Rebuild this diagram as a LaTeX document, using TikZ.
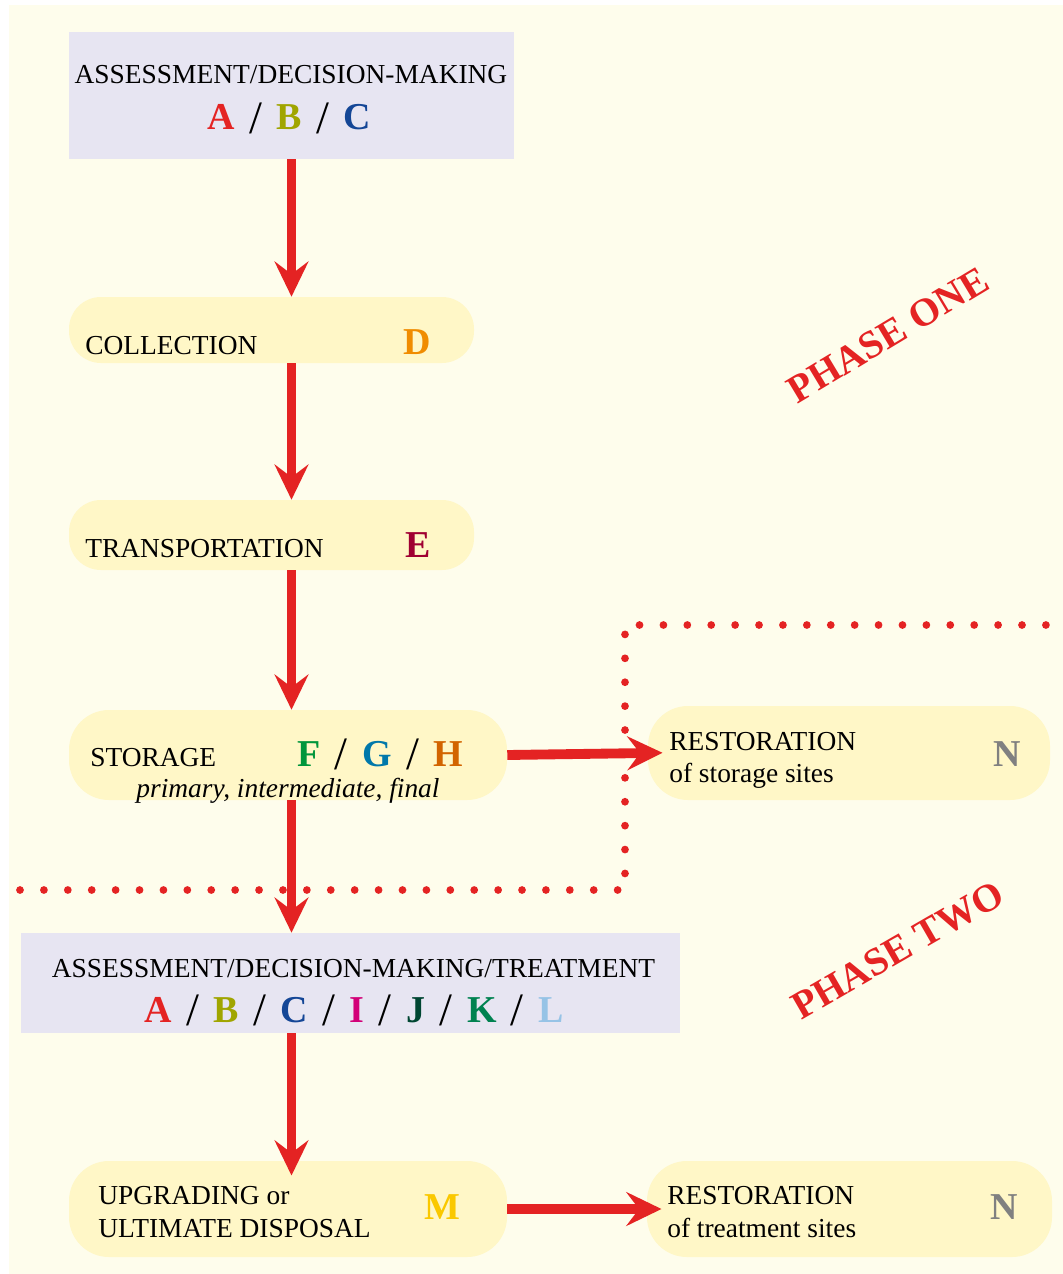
\documentclass[tikz,border=0pt]{standalone}
\usepackage{fontspec}
\setmainfont{Liberation Serif}
\usetikzlibrary{arrows.meta}
\definecolor{bg}{RGB}{254, 253, 236}
\definecolor{lav}{RGB}{231, 229, 242}
\definecolor{pil}{RGB}{255, 247, 199}
\definecolor{arr}{RGB}{228, 35, 35}
\definecolor{cA}{RGB}{228, 35, 35}
\definecolor{cB}{RGB}{160, 165, 0}
\definecolor{cC}{RGB}{20, 70, 150}
\definecolor{cD}{RGB}{240, 140, 0}
\definecolor{cE}{RGB}{160, 0, 50}
\definecolor{cF}{RGB}{0, 150, 60}
\definecolor{cG}{RGB}{0, 120, 170}
\definecolor{cH}{RGB}{210, 100, 0}
\definecolor{cI}{RGB}{210, 0, 120}
\definecolor{cJ}{RGB}{0, 70, 50}
\definecolor{cK}{RGB}{0, 130, 80}
\definecolor{cL}{RGB}{150, 195, 230}
\definecolor{cM}{RGB}{250, 200, 0}
\definecolor{cN}{RGB}{128, 128, 128}
\newcommand{\px}{0.025cm}
\newcommand{\ltr}[2]{\textbf{\color{#1}#2}}
\newcommand{\lsep}{\hspace{0.38em}\raisebox{-2.5pt}{\fontsize{33}{33}\selectfont/}\hspace{0.38em}}

\begin{document}
\begin{tikzpicture}[x=0.025cm, y=-0.025cm,
    box/.style={fill=lav, inner sep=0pt},
    pill/.style={fill=pil, inner sep=0pt, rounded corners=0.8cm},
    flow/.style={draw=arr, line width=7pt, -{Stealth[length=25pt, width=24pt, inset=9pt]}},
    txt/.style={font=\fontsize{19.5}{23}\selectfont, inner sep=0pt},
    big/.style={font=\fontsize{27}{30}\selectfont, inner sep=0pt},
    phase/.style={font=\fontsize{28}{30}\selectfont\bfseries, text=arr, inner sep=0pt}]
  \useasboundingbox (0,0) rectangle (1063,1274);
  \fill[bg] (9,5) rectangle (1063,1274);

  % phase boundary
  \draw[arr, line width=5.5pt, line cap=round, dash pattern=on 0pt off 17pt]
    (20,890) -| (625,625) -- (1050,625);

  % boxes
  \node[box, minimum width={445*\px}, minimum height={127*\px}] (assess1) at (291.5,95.5) {};
  \node[pill, minimum width={405*\px}, minimum height={66*\px}] (coll) at (271.5,330) {};
  \node[pill, minimum width={405*\px}, minimum height={70*\px}] (trans) at (271.5,535) {};
  \node[pill, minimum width={438*\px}, minimum height={90*\px}, rounded corners=1cm] (stor) at (288,755) {};
  \node[pill, minimum width={402*\px}, minimum height={94*\px}, rounded corners=1cm] (rest1) at (849,753) {};
  \node[box, minimum width={659*\px}, minimum height={100*\px}] (assess2) at (350.5,983) {};
  \node[pill, minimum width={438*\px}, minimum height={96*\px}, rounded corners=1cm] (upg) at (288,1209) {};
  \node[pill, minimum width={405*\px}, minimum height={96*\px}, rounded corners=1cm] (rest2) at (849.5,1209) {};

  % texts
  \node[txt, anchor=base] (assess1t) at (291,84) {ASSESSMENT/DECISION-MAKING};
  \node[big, anchor=base] (assess1l) at (289,130) {\ltr{cA}{A}\lsep\ltr{cB}{B}\lsep\ltr{cC}{C}};
  \node[txt, anchor=base west] (collt) at (85,354) {COLLECTION};
  \node[big, anchor=base west] (colll) at (403,354) {\ltr{cD}{D}};
  \node[txt, anchor=base west] (transt) at (85,557) {TRANSPORTATION};
  \node[big, anchor=base west] (transl) at (405,557) {\ltr{cE}{E}};
  \node[txt, anchor=base west] (stort) at (90,766) {STORAGE};
  \node[big, anchor=base west] (storl) at (297,766) {\ltr{cF}{F}\lsep\ltr{cG}{G}\lsep\ltr{cH}{H}};
  \node[txt, anchor=base, font=\fontsize{19.5}{23}\selectfont\itshape] (stori) at (288,797) {primary, intermediate, final};
  \node[txt, anchor=base west] (rest1t) at (669,750) {RESTORATION};
  \node[txt, anchor=base west] (rest1s) at (669,782) {of storage sites};
  \node[big, anchor=base west] (rest1l) at (993,766) {\ltr{cN}{N}};
  \node[txt, anchor=base] (assess2t) at (353.5,977) {ASSESSMENT/DECISION-MAKING/TREATMENT};
  \node[big, anchor=base] (assess2l) at (354,1022) {\ltr{cA}{A}\lsep\ltr{cB}{B}\lsep\ltr{cC}{C}\lsep\ltr{cI}{I}\lsep\ltr{cJ}{J}\lsep\ltr{cK}{K}\lsep\ltr{cL}{L}};
  \node[txt, anchor=base west] (upgt) at (98,1204) {UPGRADING or};
  \node[txt, anchor=base west] (upgs) at (98,1237) {ULTIMATE DISPOSAL};
  \node[big, anchor=base west] (upgl) at (424,1219) {\ltr{cM}{M}};
  \node[txt, anchor=base west] (rest2t) at (667,1204) {RESTORATION};
  \node[txt, anchor=base west] (rest2s) at (667,1237) {of treatment sites};
  \node[big, anchor=base west] (rest2l) at (990,1219) {\ltr{cN}{N}};

  \node[phase, rotate=31] (ph1) at (888,335) {PHASE ONE};
  \node[phase, rotate=30] (ph2) at (898,950) {PHASE TWO};

  % arrows
  \draw[flow] (assess1.south) -- (assess1.south |- coll.north);
  \draw[flow] (assess1.south |- coll.south) -- (assess1.south |- trans.north);
  \draw[flow] (assess1.south |- trans.south) -- (assess1.south |- stor.north);
  \draw[flow] (assess1.south |- stor.south) -- (assess1.south |- assess2.north);
  \draw[flow, shorten >=-0.37cm] (assess1.south |- assess2.south) -- (assess1.south |- upg.north);
  \draw[flow, shorten >=-0.37cm] (stor.east) -- (rest1.west);
  \draw[flow, shorten >=-0.37cm] (upg.east) -- (rest2.west);
\end{tikzpicture}
\end{document}
